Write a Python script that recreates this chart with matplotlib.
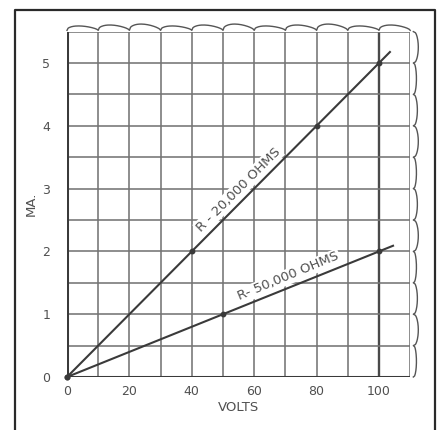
import numpy as np
import matplotlib
matplotlib.use("Agg")
import matplotlib.pyplot as plt
from matplotlib.lines import Line2D

# Current through two resistors as a function of applied voltage
volts_20k = [0, 40, 80, 100]
ma_20k = [0, 2.0, 4.0, 5.0]
volts_50k = [0, 50, 100]
ma_50k = [0, 1.0, 2.0]

x_ticks = [0, 20, 40, 60, 80, 100]
y_ticks = [0, 1, 2, 3, 4, 5]
label_20k = "R - 20,000 OHMS"
label_50k = "R- 50,000 OHMS"

INK = "#3a3a3a"
GRID = "#747474"
TXT = "#505050"
W, H = 443, 430

fig = plt.figure(figsize=(W / 100, H / 100), dpi=100)
fig.patch.set_facecolor("white")

# axes: x 0..110 maps to px 67..410, y 0..5.5 maps to px 377..32
x0, x1 = 67, 410.2
y0, y1 = 377, 31.6
ax = fig.add_axes([x0 / W, (H - y0) / H, (x1 - x0) / W, (y0 - y1) / H])
ax.set_xlim(0, 110)
ax.set_ylim(0, 5.5)
for s in ax.spines.values():
    s.set_visible(False)

# graph-paper grid
for gx in np.arange(10, 111, 10):
    lw, col = (1.7, "#4a4a4a") if gx == 100 else (1.15, GRID)
    ax.axvline(gx, color=col, lw=lw, zorder=1)
for gy in np.arange(0.5, 5.51, 0.5):
    ax.axhline(gy, color=GRID, lw=1.15, zorder=1)
ax.axvline(0, color=INK, lw=2.2, zorder=2)
ax.axhline(0, color=INK, lw=2.2, zorder=2)

# torn top and right edges of the paper
t = np.linspace(0, 1, 30)
top_x, top_y = [], []
for c in range(11):
    h = 0.07 + 0.03 * ((c * 7) % 3) / 2
    top_x.extend(c * 10 + 10 * t)
    top_y.extend(5.5 + 0.02 + h * np.sin(np.pi * t ** 0.7) ** 0.6)
ax.plot(top_x, top_y, color="#555555", lw=1.0, clip_on=False, zorder=3)
rx, ry = [], []
for c in range(11):
    w = 1.0 + 0.6 * ((c * 5) % 3) / 2
    ry.extend(c * 0.5 + 0.5 * t)
    rx.extend(111.0 + w * np.sin(np.pi * t) ** 0.4)
ax.plot(rx, ry, color="#555555", lw=1.0, clip_on=False, zorder=3)


def line_to(v, m, x_end):
    # straight characteristic through the readings, run on to x_end
    slope = m[-1] / v[-1]
    ax.plot([v[0], x_end], [m[0], slope * x_end], color=INK, lw=1.5, zorder=4)


line_to(volts_20k, ma_20k, 103.5)
line_to(volts_50k, ma_50k, 104.5)
ax.plot(volts_20k, ma_20k, "o", color=INK, ms=3.2, zorder=5, clip_on=False)
ax.plot(volts_50k, ma_50k, "o", color=INK, ms=3.2, zorder=5, clip_on=False)

ax.text(55, 2.98, label_20k, rotation=45, rotation_mode="anchor", ha="center", va="center",
        fontsize=9.5, color=TXT, zorder=6,
        bbox=dict(boxstyle="square,pad=0.1", fc="white", ec="none"))
ax.text(71, 1.6, label_50k, rotation=22.5, rotation_mode="anchor", ha="center", va="center",
        fontsize=9.5, color=TXT, zorder=6,
        bbox=dict(boxstyle="square,pad=0.1", fc="white", ec="none"))

ax.set_xticks(x_ticks)
ax.set_yticks(y_ticks)
ax.set_xticklabels([str(v) for v in x_ticks])
ax.set_yticklabels([str(v) for v in y_ticks])
ax.tick_params(length=0, labelsize=9, labelcolor=TXT, pad=6)
ax.tick_params(axis="y", pad=12)
ax.set_xlabel("VOLTS", fontsize=9.5, color=TXT, labelpad=2)
ax.set_ylabel("MA.", fontsize=9.5, color=TXT, labelpad=3)

# outer frame, open at the bottom
fx = [15 / W, 15 / W, 435 / W, 435 / W]
fy = [0, 1 - 10 / H, 1 - 10 / H, 0]
fig.add_artist(Line2D(fx, fy, color="#2a2a2a", lw=1.6, transform=fig.transFigure))

fig.savefig("out.png", dpi=100, facecolor="white")
